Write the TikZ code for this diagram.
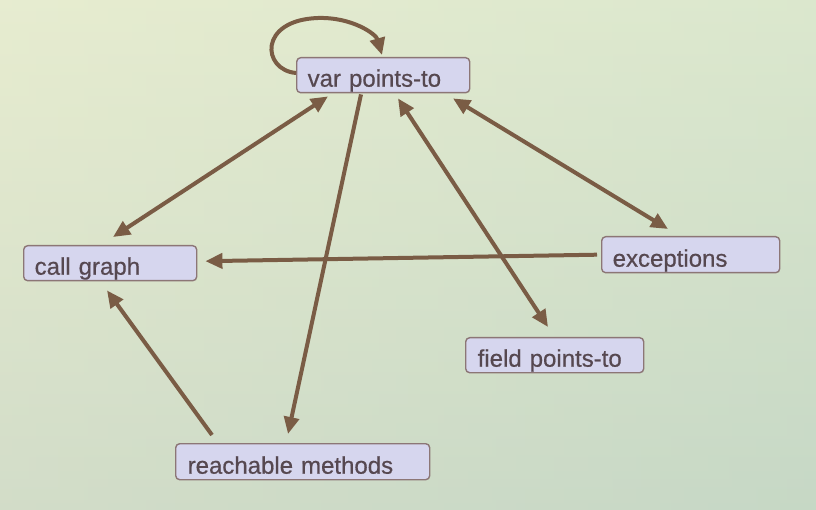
\documentclass[tikz,border=0pt]{standalone}
\usepackage{fontspec}
\setmainfont{Liberation Sans}
\newfontfamily\slidefont[FakeBold=0.6]{Liberation Sans}
\usetikzlibrary{arrows.meta,calc}
\definecolor{arrowc}{HTML}{7A5C45}
\definecolor{boxfill}{HTML}{D6D6EE}
\definecolor{boxdraw}{HTML}{8C7676}
\definecolor{textc}{HTML}{564850}
\definecolor{bgtop}{HTML}{E9EED3}
\definecolor{bgbot}{HTML}{C9D6C7}
\definecolor{bgleft}{HTML}{E4EACB}
\definecolor{bgright}{HTML}{C2DCC4}
\begin{document}
\begin{tikzpicture}[x=1pt,y=-1pt,
  slidebox/.style={draw=boxdraw, line width=1.4pt, fill=boxfill, rounded corners=4pt,
    anchor=north west, inner xsep=11pt, inner ysep=0pt, text height=29pt, text depth=6pt,
    align=left, text=textc, font=\slidefont\fontsize{24}{26}\selectfont},
  link/.style={draw=arrowc, line width=4pt, -{Triangle[length=17pt,width=15pt]}},
  link2/.style={draw=arrowc, line width=4pt, {Triangle[length=17pt,width=15pt]}-{Triangle[length=17pt,width=15pt]}}
]
\useasboundingbox (0,0) rectangle (816,510);
\shade[top color=bgtop, bottom color=bgbot] (0,0) rectangle (816,510);
\shade[left color=bgleft, right color=bgright, opacity=0.35] (0,0) rectangle (816,510);

\node[slidebox, text width=151pt] (vpt) at (296,57) {var points-to};
\node[slidebox, text width=151pt] (cg) at (23,245) {call graph};
\node[slidebox, text width=156pt, text height=30pt] (exc) at (601,236) {exceptions};
\node[slidebox, text width=154pt, inner xsep=12pt] (fpt) at (465,337) {field points-to};
\node[slidebox, text width=230pt, inner xsep=12pt, text height=30pt] (rm) at (175,443) {reachable methods};

% self loop
\draw[link] ($(vpt.north west)+(0,16)$) .. controls (262,70) and (258,20) .. (318,18)
  .. controls (352,17) and (376,34) .. ($(vpt.north west)+(86,-2)$);
% var points-to <-> call graph
\draw[link2] ($(vpt.south west)+(32,3)$) -- ($(cg.north west)+(90,-8)$);
% var points-to -> reachable methods
\draw[link] ($(vpt.south west)+(65,1)$) -- ($(rm.north west)+(113,-9)$);
% var points-to <-> field points-to
\draw[link2] ($(vpt.south west)+(102,5)$) -- ($(fpt.north west)+(83,-10)$);
% var points-to <-> exceptions
\draw[link2] ($(vpt.south west)+(157,5)$) -- ($(exc.north west)+(67,-7)$);
% exceptions -> call graph
\draw[link] ($(exc.west)+(-4,0)$) -- ($(cg.east)+(8,-2)$);
% reachable methods -> call graph
\draw[link] ($(rm.north west)+(37,-8)$) -- ($(cg.south west)+(84,9)$);
\end{tikzpicture}
\end{document}
